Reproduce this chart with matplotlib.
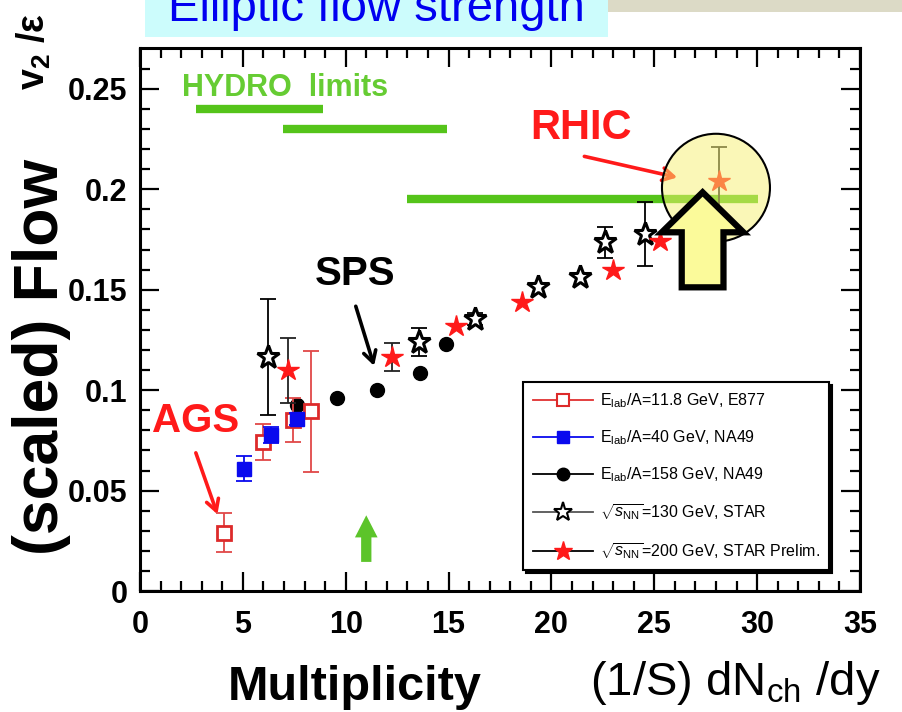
import numpy as np
import matplotlib
matplotlib.use("Agg")
import matplotlib.pyplot as plt
from matplotlib.lines import Line2D
from matplotlib.patches import Rectangle, Ellipse, FancyArrow

plt.rcParams['font.family'] = ['Liberation Sans', 'DejaVu Sans']
plt.rcParams['mathtext.fontset'] = 'custom'
plt.rcParams['mathtext.rm'] = 'Liberation Sans'
plt.rcParams['mathtext.bf'] = 'Liberation Sans:bold'
plt.rcParams['mathtext.it'] = 'Liberation Sans:italic'

# --- data ---
e877_x = [4.10, 5.99, 7.45, 8.31]
e877_y = [0.029, 0.0742, 0.085, 0.0895]
e877_err = [0.0096, 0.009, 0.011, 0.030]

na40_x = [5.06, 6.37, 7.62]
na40_y = [0.061, 0.0775, 0.0858]
na40_err = [0.006, 0.004, 0.003]

na158_x = [7.62, 9.56, 11.51, 13.61, 14.88]
na158_y = [0.0924, 0.0961, 0.0999, 0.1085, 0.1231]

star130_x = [6.24, 13.58, 16.29, 19.36, 21.39, 22.60, 24.55]
star130_y = [0.1164, 0.1239, 0.1355, 0.1512, 0.1562, 0.1736, 0.1778]
star130_err = [0.029, 0.007, 0.003, 0.0, 0.0, 0.0076, 0.016]

star200_x = [7.21, 12.24, 15.36, 18.56, 23.00, 25.28, 28.16]
star200_y = [0.1098, 0.1164, 0.1317, 0.1438, 0.1600, 0.1742, 0.2043]
star200_err = [0.016, 0.007, 0.0, 0.0, 0.0, 0.0, 0.017]

# hydro limits: y level, x start, x end
hydro_y = [0.240, 0.230, 0.1953]
hydro_x0 = [2.73, 6.94, 12.97]
hydro_x1 = [8.88, 14.91, 30.06]

legend_labels = [r'E$_{\rm lab}$/A=11.8 GeV, E877',
                 r'E$_{\rm lab}$/A=40 GeV, NA49',
                 r'E$_{\rm lab}$/A=158 GeV, NA49',
                 r'$\sqrt{s_{\rm NN}}$=130 GeV, STAR',
                 r'$\sqrt{s_{\rm NN}}$=200 GeV, STAR Prelim.']

xticks = [0, 5, 10, 15, 20, 25, 30, 35]
xtick_labels = ['0', '5', '10', '15', '20', '25', '30', '35']
yticks = [0, 0.05, 0.1, 0.15, 0.2, 0.25]
ytick_labels = ['0', '0.05', '0.1', '0.15', '0.2', '0.25']

RED = '#ff1a1a'
SQRED = '#dd2a2a'
BLUE = '#0a0aee'
GREEN = '#55c41a'

fig = plt.figure(figsize=(9.02, 7.12), dpi=100)

# slide decorations
fig.add_artist(Rectangle((608 / 902, 1 - 12 / 712), 1 - 608 / 902, 12 / 712,
                         transform=fig.transFigure, color='#dcdac6', lw=0))
fig.add_artist(Rectangle((145 / 902, 1 - 37 / 712), 463 / 902, 37 / 712,
                         transform=fig.transFigure, color='#ccfcfc', lw=0))
fig.text(376 / 902, 1 - 21 / 712, 'Elliptic flow strength', color='#0000f0',
         fontsize=34, ha='center', va='baseline')

ax = fig.add_axes([0.1552, 0.1699, 0.7982, 0.7631])
ax.set_xlim(0, 35)
ax.set_ylim(0, 0.2705)

# hydro limits
ax.hlines(hydro_y, hydro_x0, hydro_x1, colors=GREEN, lw=6, zorder=1)
ax.text(2.03, 0.2506, 'HYDRO  limits', color='#66cc33', fontsize=22,
        fontweight='bold', ha='left', va='center')

# data
ax.plot(na158_x, na158_y, 'o', color='black', ms=10, zorder=3)

ax.errorbar(e877_x, e877_y, yerr=e877_err, fmt='none', ecolor='#e04848',
            elinewidth=1.3, capsize=6, capthick=1.3, zorder=4)
ax.plot(e877_x, e877_y, 's', mfc='white', mec=SQRED, mew=2, ms=10, zorder=4)

ax.errorbar(na40_x, na40_y, yerr=na40_err, fmt='none', ecolor=BLUE,
            elinewidth=1.3, capsize=6, capthick=1.3, zorder=5)
ax.plot(na40_x, na40_y, 's', color=BLUE, ms=10, zorder=5)

s130_err = np.array(star130_err)
m = s130_err > 0
ax.errorbar(np.array(star130_x)[m], np.array(star130_y)[m], yerr=s130_err[m],
            fmt='none', ecolor='black', elinewidth=1.3, capsize=6, capthick=1.3, zorder=6)
ax.plot(star130_x, star130_y, '*', mfc='white', mec='black', mew=2.2, ms=17, zorder=6)

s200_err = np.array(star200_err)
m = s200_err > 0
ax.errorbar(np.array(star200_x)[m], np.array(star200_y)[m], yerr=s200_err[m],
            fmt='none', ecolor='#222222', elinewidth=1.3, capsize=6, capthick=1.3, zorder=7)
ax.plot(star200_x, star200_y, '*', color=RED, ms=16, zorder=7)

# ticks and frame
ax.set_xticks(xticks)
ax.set_xticklabels(xtick_labels, fontweight='bold')
ax.set_yticks(yticks)
ax.set_yticklabels(ytick_labels, fontweight='bold')
ax.set_xticks(np.arange(0, 36, 1), minor=True)
ax.set_yticks(np.arange(0, 0.27, 0.01), minor=True)
ax.tick_params(which='both', direction='in', top=True, right=True, width=1.6)
ax.tick_params(which='major', length=14, labelsize=22)
ax.tick_params(which='minor', length=7)
ax.tick_params(axis='x', pad=14)
ax.tick_params(axis='y', pad=9)
for s in ax.spines.values():
    s.set_linewidth(2.2)

# legend
handles = [
    Line2D([], [], color='#e03030', lw=1.3, marker='s', mfc='white', mec=SQRED, mew=1.5, ms=9),
    Line2D([], [], color=BLUE, lw=1.3, marker='s', ms=9),
    Line2D([], [], color='black', lw=1.3, marker='o', ms=9),
    Line2D([], [], color='#555555', lw=1.3, marker='*', mfc='white', mec='black', mew=1.5, ms=14),
    Line2D([], [], color='black', lw=1.3, marker='*', mfc=RED, mec=RED, ms=14),
]
leg = ax.legend(handles, legend_labels, loc='lower left', bbox_to_anchor=(0.532, 0.038),
                borderaxespad=0, fontsize=11.5, handlelength=3.8, handletextpad=0.4,
                labelspacing=1.15, borderpad=0.6, fancybox=False, framealpha=1,
                edgecolor='black', shadow={'color': 'black', 'alpha': 1})
leg.get_frame().set_linewidth(1.5)
leg.set_zorder(8)

# annotations
ax.text(2.72, 0.0845, 'AGS', color=RED, fontsize=29, fontweight='bold',
        ha='center', va='center')
ax.annotate('', xy=(3.81, 0.0369), xytext=(2.67, 0.0701),
            arrowprops=dict(arrowstyle='->,head_length=0.8,head_width=0.45', color=RED, lw=2.6))
ax.text(10.45, 0.1576, 'SPS', color='black', fontsize=29, fontweight='bold',
        ha='center', va='center')
ax.annotate('', xy=(11.42, 0.1108), xytext=(10.45, 0.1431),
            arrowprops=dict(arrowstyle='->,head_length=0.8,head_width=0.45', color='black', lw=2.6))
ax.text(21.44, 0.2306, 'RHIC', color=RED, fontsize=30, fontweight='bold',
        ha='center', va='center')
ax.annotate('', xy=(26.25, 0.2056), xytext=(21.47, 0.2167),
            arrowprops=dict(arrowstyle='->,head_length=0.8,head_width=0.45', color=RED, lw=2.6))

# green arrow at x = 11
ax.add_patch(FancyArrow(11.0, 0.0145, 0, 0.0232, width=0.5, head_width=1.1,
                        head_length=0.011, length_includes_head=True,
                        color='#5cc42a', lw=0, zorder=5))

# RHIC highlight circle and big arrow
ax.add_patch(Ellipse((28.0, 0.2008), 5.25, 0.0537, facecolor='#f6f070', alpha=0.5,
                     edgecolor='none', zorder=9))
ax.add_patch(Ellipse((28.0, 0.2008), 5.25, 0.0537, facecolor='none',
                     edgecolor='black', lw=1.5, zorder=9))
ax.add_patch(FancyArrow(27.35, 0.1512, 0, 0.0473, width=2.03, head_width=3.97,
                        head_length=0.0199, length_includes_head=True,
                        facecolor='#fbfa9a', edgecolor='black', lw=4.5,
                        joinstyle='miter', zorder=10))

# axis titles
fig.text(42 / 902, 1 - 357 / 712, '(scaled) Flow', rotation=90, fontsize=45,
         fontweight='bold', ha='center', va='center')
fig.text(34 / 902, 1 - 90 / 712, r'v$_{\mathbf{2}}$ /ε', rotation=90, fontsize=27,
         fontweight='bold', ha='center', va='bottom')
fig.text(355 / 902, 12 / 712, 'Multiplicity', fontsize=35, fontweight='bold',
         ha='center', va='baseline')
fig.text(590 / 902, 17 / 712, r'(1/S) dN$_{\rm ch}$ /dy', fontsize=34,
         ha='left', va='baseline')

fig.savefig('out.png', dpi=100)
